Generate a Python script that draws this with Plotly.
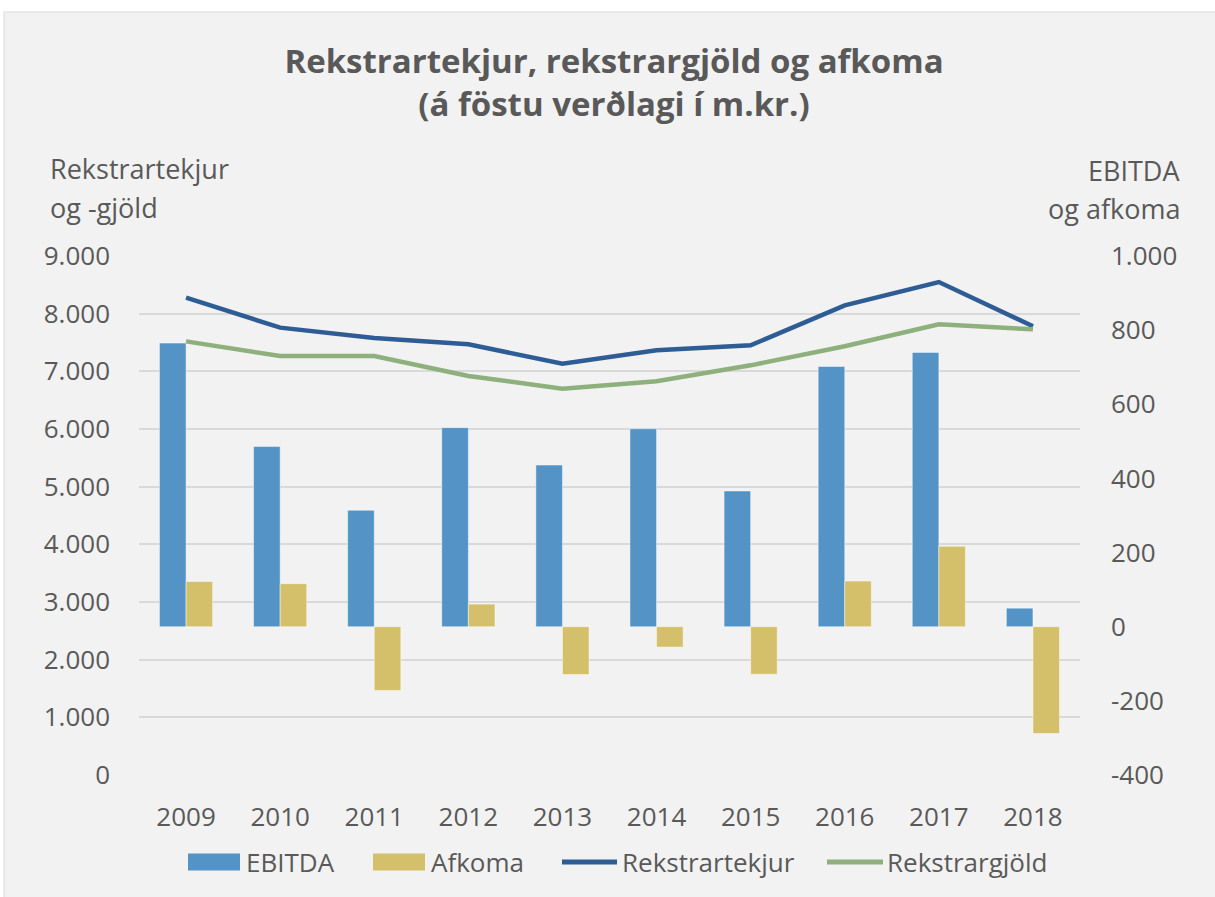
import plotly.graph_objects as go

years = ["2009", "2010", "2011", "2012", "2013", "2014", "2015", "2016", "2017", "2018"]
ebitda = [765, 486, 314, 537, 436, 534, 366, 702, 740, 50]
afkoma = [122, 116, -172, 61, -129, -55, -128, 123, 217, -288]
rekstrartekjur = [8278, 7758, 7578, 7468, 7134, 7365, 7451, 8145, 8549, 7781]
rekstrargjold = [7520, 7266, 7266, 6919, 6700, 6827, 7104, 7434, 7815, 7729]

left_tickvals = [0, 1000, 2000, 3000, 4000, 5000, 6000, 7000, 8000, 9000]
left_ticktext = ["0", "1.000", "2.000", "3.000", "4.000", "5.000", "6.000", "7.000", "8.000", "9.000"]
right_tickvals = [-400, -200, 0, 200, 400, 600, 800, 1000]
right_ticktext = ["-400", "-200", "0", "200", "400", "600", "800", "1.000"]

series_names = ["EBITDA", "Afkoma", "Rekstrartekjur", "Rekstrargjöld"]
series_colors = ["#5393c5", "#d4c06a", "#2e5c94", "#8db07c"]

FONT = "Open Sans"
TXT = "#595959"
FS = 26

fig = go.Figure()
fig.add_trace(go.Bar(x=years, y=ebitda, name=series_names[0], yaxis="y",
                     marker=dict(color=series_colors[0], line=dict(color="rgba(255,255,255,0.45)", width=1))))
fig.add_trace(go.Bar(x=years, y=afkoma, name=series_names[1], yaxis="y",
                     marker=dict(color=series_colors[1], line=dict(color="rgba(255,255,255,0.45)", width=1))))
fig.add_trace(go.Scatter(x=years, y=rekstrartekjur, name=series_names[2], yaxis="y2",
                         mode="lines", line=dict(color=series_colors[2], width=4.5)))
fig.add_trace(go.Scatter(x=years, y=rekstrargjold, name=series_names[3], yaxis="y2",
                         mode="lines", line=dict(color=series_colors[3], width=4.5)))

W, H = 1215, 897
L, R, T, B = 139, 135, 256, 122
pw, ph = W - L - R, H - T - B


def px_x(px):
    return (px - L) / pw


def px_y(py):
    return (H - B - py) / ph


shapes = [dict(type="rect", xref="paper", yref="paper", layer="below",
               x0=px_x(4), x1=px_x(W + 5), y0=px_y(12), y1=px_y(H + 5),
               fillcolor="#f2f2f2", line=dict(color="#d9d9d9", width=1))]

# custom legend (swatches drawn as shapes, labels as text)
leg_y = 862
leg_items = [
    ("rect", 188, 240, 246),
    ("rect", 373, 425, 431),
    ("line", 562, 617, 622),
    ("line", 827, 883, 887),
]
annotations = []
for (kind, x0, x1, tx), name, col in zip(leg_items, series_names, series_colors):
    if kind == "rect":
        shapes.append(dict(type="rect", xref="paper", yref="paper",
                           x0=px_x(x0), x1=px_x(x1), y0=px_y(leg_y - 8.5), y1=px_y(leg_y + 8.5),
                           fillcolor=col, line=dict(width=0)))
    else:
        shapes.append(dict(type="line", xref="paper", yref="paper",
                           x0=px_x(x0), x1=px_x(x1), y0=px_y(leg_y), y1=px_y(leg_y),
                           line=dict(color=col, width=5)))
    annotations.append(dict(text=name, xref="paper", yref="paper", x=px_x(tx - 2), y=px_y(leg_y),
                            xanchor="left", yanchor="middle", showarrow=False,
                            font=dict(size=FS, color=TXT)))

annotations += [
    dict(text="Rekstrartekjur", xref="paper", yref="paper", x=px_x(48), y=px_y(168),
         xanchor="left", yanchor="middle", showarrow=False, font=dict(size=27, color=TXT)),
    dict(text="og -gjöld", xref="paper", yref="paper", x=px_x(48), y=px_y(207),
         xanchor="left", yanchor="middle", showarrow=False, font=dict(size=27, color=TXT)),
    dict(text="EBITDA", xref="paper", yref="paper", x=px_x(1182), y=px_y(170),
         xanchor="right", yanchor="middle", showarrow=False, font=dict(size=27, color=TXT)),
    dict(text="og afkoma", xref="paper", yref="paper", x=px_x(1182), y=px_y(208),
         xanchor="right", yanchor="middle", showarrow=False, font=dict(size=27, color=TXT)),
]

fig.update_layout(
    width=W, height=H,
    margin=dict(l=L, r=R, t=T, b=B, pad=0),
    paper_bgcolor="white",
    plot_bgcolor="#f2f2f2",
    font=dict(family=FONT, color=TXT, size=FS),
    barmode="group",
    bargap=0.435,
    bargroupgap=0,
    showlegend=False,
    title=dict(text="<b>Rekstrartekjur, rekstrargjöld og afkoma<br>(á föstu verðlagi í m.kr.)</b>",
               x=614 / W, xanchor="center", xref="container",
               y=1 - 73 / H, yanchor="top", yref="container",
               font=dict(family=FONT, size=33, color=TXT)),
    xaxis=dict(type="category", showgrid=False, showline=False, zeroline=False,
               ticks="", ticklabelstandoff=24, tickfont=dict(size=FS, color=TXT)),
    yaxis=dict(side="right", range=[-400, 1000], tickvals=right_tickvals, ticktext=right_ticktext,
               showgrid=False, zeroline=False, showline=False, ticks="",
               ticklabelstandoff=30, tickfont=dict(size=FS, color=TXT)),
    yaxis2=dict(side="left", overlaying="y", range=[0, 9000], tickvals=left_tickvals,
                ticktext=left_ticktext, showgrid=True, gridcolor="#d9d9d9", gridwidth=1.5,
                zeroline=False, showline=False, ticks="",
                ticklabelstandoff=28, tickfont=dict(size=FS, color=TXT)),
    shapes=shapes,
    annotations=annotations,
)

fig.write_html("out.html", config={"displayModeBar": False},
               post_script="document.body.style.margin='0px';")
